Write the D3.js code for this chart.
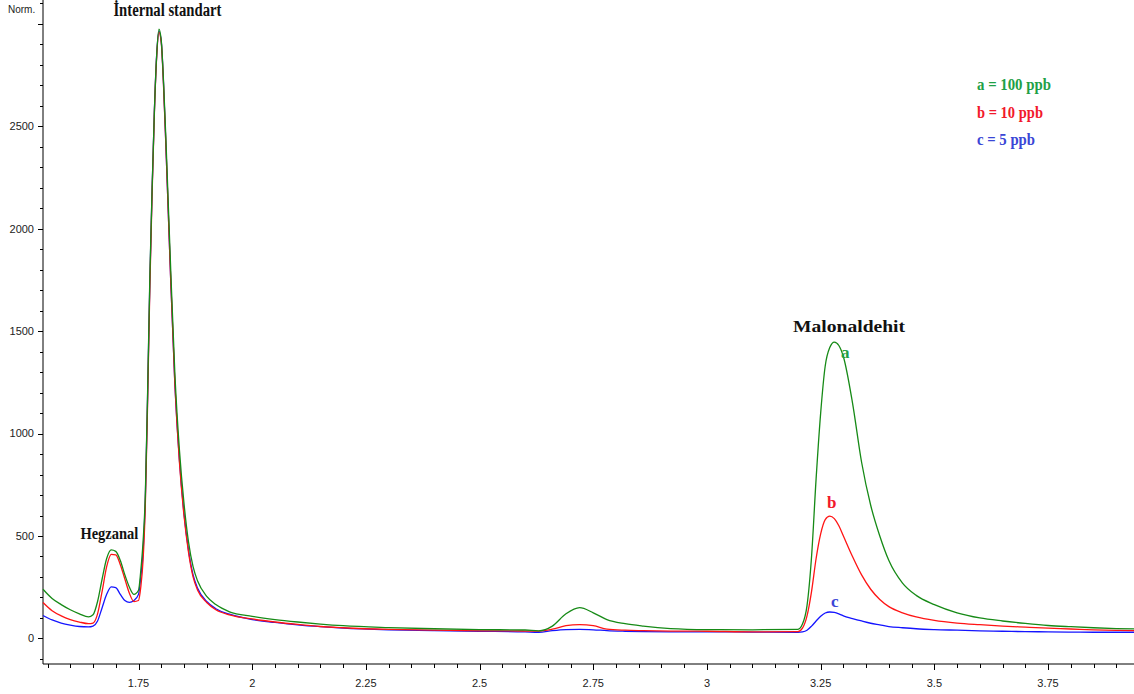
<!DOCTYPE html>
<html>
<head>
<meta charset="utf-8">
<script src="https://cdn.jsdelivr.net/npm/d3@7"></script>
<style>
  html, body { margin: 0; padding: 0; background: #fff; }
  svg { display: block; }
  .tick-label { font-family: Arial, "Liberation Sans", sans-serif; font-size: 11px; fill: #222; }
  .peak-title { font-family: "Liberation Serif", "Times New Roman", serif; font-weight: bold; fill: #111; }
  .legend, .peak-letter { font-family: "Liberation Serif", "Times New Roman", serif; font-weight: bold; }
</style>
</head>
<body>
<svg id="chart" width="1134" height="694"></svg>
<script>
// Retention time (min) grid shared by the three chromatograms
const retentionTime = [
  1.54, 1.56, 1.58, 1.60, 1.62, 1.64, 1.65, 1.66, 1.67, 1.68, 1.69, 1.70, 1.71, 1.72, 1.73, 1.74,
  1.75, 1.755, 1.76, 1.765, 1.77, 1.775, 1.78, 1.785, 1.79, 1.795, 1.80, 1.805, 1.81, 1.815, 1.82,
  1.83, 1.84, 1.85, 1.86, 1.87, 1.88, 1.90, 1.92, 1.95, 2.00, 2.05, 2.10, 2.15, 2.20, 2.30, 2.40,
  2.50, 2.60, 2.63, 2.66, 2.69, 2.72, 2.75, 2.78, 2.82, 2.86, 2.92, 3.00, 3.10, 3.20, 3.21, 3.22,
  3.23, 3.24, 3.25, 3.26, 3.27, 3.28, 3.29, 3.30, 3.32, 3.34, 3.36, 3.38, 3.40, 3.43, 3.46, 3.50,
  3.55, 3.60, 3.65, 3.70, 3.75, 3.80, 3.85, 3.90, 3.94
];

// a = 100 ppb
const seriesA = [
  240, 195, 165, 140, 120, 105, 115, 180, 290, 390, 432, 425, 380, 310, 250, 215,
  235, 330, 470, 700, 1200, 1770, 2200, 2580, 2850, 2975, 2920, 2720, 2450, 2150, 1850,
  1290, 920, 660, 470, 350, 280, 205, 165, 130, 108, 92, 80, 70, 62, 53, 47,
  43, 41, 37, 60, 120, 150, 125, 92, 72, 60, 48, 43, 42, 44, 70, 160,
  400, 780, 1100, 1330, 1420, 1447, 1430, 1375, 1150, 860, 650, 500, 380, 270, 210, 165,
  125, 100, 85, 73, 63, 57, 52, 48, 46
];

// b = 10 ppb
const seriesB = [
  175, 135, 110, 92, 80, 72, 75, 120, 230, 350, 410, 408, 360, 290, 220, 180,
  185, 250, 380, 650, 1150, 1720, 2180, 2570, 2840, 2960, 2910, 2700, 2420, 2110, 1800,
  1240, 860, 600, 420, 300, 235, 175, 140, 115, 95, 80, 68, 58, 52, 44, 40,
  37, 36, 36, 45, 62, 67, 62, 45, 40, 38, 36, 35, 32, 33, 50, 110,
  230, 390, 510, 580, 597, 585, 550, 500, 400, 310, 240, 190, 155, 125, 105, 88,
  75, 67, 60, 55, 50, 46, 42, 39, 38
];

// c = 5 ppb
const seriesC = [
  112, 90, 75, 65, 58, 56, 60, 85, 150, 215, 252, 248, 215, 185, 176, 185,
  215, 300, 420, 680, 1180, 1750, 2200, 2580, 2850, 2965, 2915, 2710, 2420, 2110, 1800,
  1240, 870, 610, 430, 310, 245, 180, 145, 118, 92, 78, 66, 57, 50, 42, 38,
  35, 32, 30, 38, 43, 44, 42, 38, 35, 33, 32, 32, 31, 30, 32, 40,
  60, 85, 108, 124, 129, 127, 120, 110, 97, 85, 74, 66, 58, 52, 47, 43,
  40, 37, 35, 33, 32, 31, 30, 30, 30
];

const xTickValues = [1.75, 2, 2.25, 2.5, 2.75, 3, 3.25, 3.5, 3.75];
const yTickValues = [0, 500, 1000, 1500, 2000, 2500];
const legendLabels = ["a = 100 ppb", "b = 10 ppb", "c = 5 ppb"];
const peakLetters = ["a", "b", "c"];
const peakNames = ["İnternal standart", "Hegzanal", "Malonaldehit"];

const lineColors = ["#168a16", "#ff1414", "#1414ff"];
const textColors = ["#1fa046", "#f2192b", "#3a46d6"];

const svg = d3.select("#chart");
const W = 1134, H = 694;
const left = 43, bottom = 664;

const x = d3.scaleLinear().domain([1.540, 3.939]).range([left, W]);
const y = d3.scaleLinear().domain([-125, 3117]).range([bottom, 0]);

// Axes
const gx = svg.append("g").attr("transform", `translate(0,${bottom})`);
gx.append("line").attr("x1", left).attr("x2", W).attr("y1", 0).attr("y2", 0)
  .attr("stroke", "#000").attr("stroke-width", 1);
gx.selectAll("line.minor").data(d3.range(1.55, 3.93, 0.05))
  .join("line").attr("class", "minor")
  .attr("x1", d => Math.round(x(d)) + 0.5).attr("x2", d => Math.round(x(d)) + 0.5)
  .attr("y1", 0).attr("y2", 4).attr("stroke", "#000");
gx.selectAll("line.major").data(xTickValues)
  .join("line").attr("class", "major")
  .attr("x1", d => Math.round(x(d)) + 0.5).attr("x2", d => Math.round(x(d)) + 0.5)
  .attr("y1", 0).attr("y2", 6).attr("stroke", "#000");
gx.selectAll("text").data(xTickValues)
  .join("text").attr("class", "tick-label")
  .attr("x", d => x(d)).attr("y", 23).attr("text-anchor", "middle")
  .text(d => d3.format("~g")(d));

const gy = svg.append("g").attr("transform", `translate(${left},0)`);
gy.append("line").attr("x1", 0).attr("x2", 0).attr("y1", 0).attr("y2", bottom)
  .attr("stroke", "#000").attr("stroke-width", 1);
gy.selectAll("line.minor").data(d3.range(-100, 3101, 100))
  .join("line").attr("class", "minor")
  .attr("y1", d => Math.round(y(d)) + 0.5).attr("y2", d => Math.round(y(d)) + 0.5)
  .attr("x1", 0).attr("x2", -3).attr("stroke", "#000");
gy.selectAll("line.major").data(yTickValues.concat([3000]))
  .join("line").attr("class", "major")
  .attr("y1", d => Math.round(y(d)) + 0.5).attr("y2", d => Math.round(y(d)) + 0.5)
  .attr("x1", 0).attr("x2", -5).attr("stroke", "#000");
gy.selectAll("text").data(yTickValues)
  .join("text").attr("class", "tick-label")
  .attr("x", -9).attr("y", d => y(d)).attr("dy", "0.35em").attr("text-anchor", "end")
  .text(d => d);

svg.append("text").attr("class", "tick-label").attr("x", 8).attr("y", 13)
  .style("font-size", "10px").text("Norm.");

// Chromatogram traces (c first, then b, with a drawn on top)
const line = d3.line()
  .x(d => x(d[0]))
  .y(d => y(d[1]))
  .curve(d3.curveMonotoneX);

const allSeries = [seriesC, seriesB, seriesA];
const seriesColors = [lineColors[2], lineColors[1], lineColors[0]];
svg.append("g").selectAll("path").data(allSeries)
  .join("path")
  .attr("d", vals => line(retentionTime.map((t, i) => [t, vals[i]])))
  .attr("fill", "none")
  .attr("stroke", (d, i) => seriesColors[i])
  .attr("stroke-width", 1.3);

// Peak names, anchored on retention time / signal coordinates
const peakLabelPos = [
  { t: 1.8135, v: 3040, w: 108, size: 18 },
  { t: 1.686,  v: 485,  w: 58,  size: 17 },
  { t: 3.3125, v: 1495, w: 112, size: 17 }
];
svg.append("g").selectAll("text").data(peakNames)
  .join("text").attr("class", "peak-title")
  .attr("x", (d, i) => x(peakLabelPos[i].t))
  .attr("y", (d, i) => y(peakLabelPos[i].v))
  .attr("text-anchor", "middle")
  .style("font-size", (d, i) => peakLabelPos[i].size + "px")
  .attr("textLength", (d, i) => peakLabelPos[i].w)
  .attr("lengthAdjust", "spacingAndGlyphs")
  .text(d => d);

// Letters at the malonaldehyde peak apexes
const apex = [seriesA, seriesB, seriesC].map(vals => {
  const i = d3.maxIndex(vals, (v, j) => retentionTime[j] > 3 ? v : -Infinity);
  return [retentionTime[i], vals[i]];
});
svg.append("g").selectAll("text").data(peakLetters)
  .join("text").attr("class", "peak-letter")
  .attr("x", (d, i) => x(apex[i][0]) + [11, 2, 5][i])
  .attr("y", (d, i) => y(apex[i][1]) + [16, -8, -5][i])
  .attr("text-anchor", "middle")
  .attr("fill", (d, i) => textColors[i])
  .style("font-size", "17px")
  .text(d => d);

// Legend
svg.append("g").selectAll("text").data(legendLabels)
  .join("text").attr("class", "legend")
  .attr("x", 977).attr("y", (d, i) => 90 + i * 27.5)
  .attr("fill", (d, i) => textColors[i])
  .style("font-size", "16px")
  .attr("textLength", (d, i) => [74, 66, 58][i])
  .attr("lengthAdjust", "spacingAndGlyphs")
  .text(d => d);
</script>
</body>
</html>
